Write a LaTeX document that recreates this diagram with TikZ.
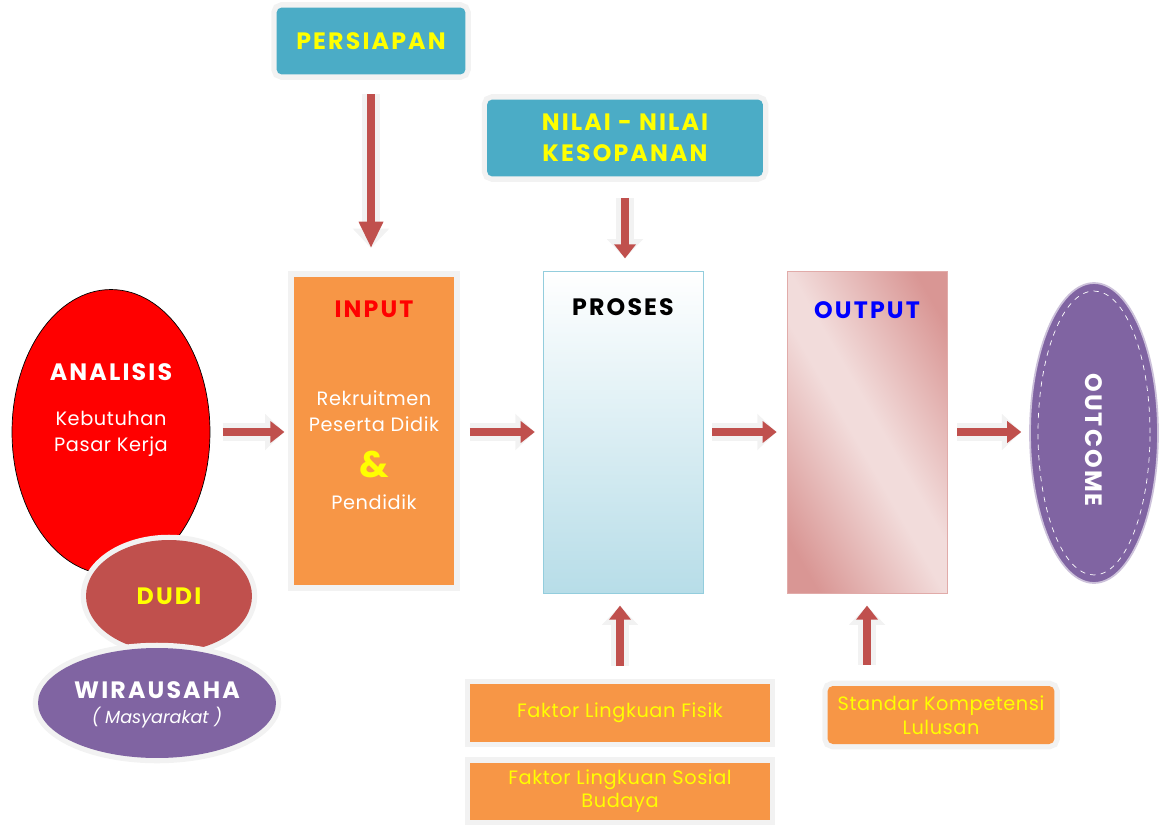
\documentclass[tikz,border=0pt]{standalone}
\usepackage{fontspec}
\setmainfont{Poppins}
\newfontfamily\headfont{Poppins}[LetterSpace=9]
\newfontfamily\bodyfont{Poppins}[LetterSpace=3]
\usetikzlibrary{arrows.meta}
\usetikzlibrary{shapes.geometric}
\definecolor{boxteal}{HTML}{4BACC6}
\definecolor{boxorange}{HTML}{F79646}
\definecolor{arrowred}{HTML}{C0504D}
\definecolor{boxpurple}{HTML}{8064A2}
\definecolor{procblue}{HTML}{B7DDE8}
\definecolor{procline}{HTML}{93CDDD}
\definecolor{outdark}{HTML}{D99694}
\definecolor{outlight}{HTML}{F2DCDB}
\definecolor{textyellow}{HTML}{FFFF00}
\pgfdeclarehorizontalshading{outshade}{100bp}{color(0bp)=(outdark); color(22bp)=(outdark); color(47bp)=(outlight); color(53bp)=(outlight); color(78bp)=(outdark); color(100bp)=(outdark)}
\tikzset{
  glow/.style={preaction={draw=black!5, line width=6pt}},
  headtext/.style={font=\headfont\bfseries\fontsize{13.5}{17.5}\selectfont, align=center, inner sep=0pt},
  bodytext/.style={text=white, font=\bodyfont\fontsize{11}{14.5}\selectfont, align=center, inner sep=0pt},
  tealbox/.style={glow, rectangle, rounded corners=3pt, fill=boxteal, inner sep=0pt, text=textyellow, headtext},
  colbox/.style={rectangle, inner sep=0pt, minimum width=3.2cm, minimum height=6.44cm},
  orangebox/.style={glow, rectangle, fill=boxorange, inner sep=0pt, text=textyellow, font=\bodyfont\fontsize{11}{13.5}\selectfont, align=center},
  flowarrow/.style={draw=arrowred, line width=5pt, -{Triangle[length=8pt,width=12pt]},
    preaction={draw=black!5, line width=10pt, -{Triangle[length=11pt,width=20pt]}}}
}
\begin{document}
\begin{tikzpicture}[x=0.02cm, y=-0.02cm]
\useasboundingbox (0,0) rectangle (1159,828);

\node (persiapan) [tealbox, minimum width=3.78cm, minimum height=1.34cm] at (371,41) {PERSIAPAN};
\node (nilai) [tealbox, minimum width=5.52cm, minimum height=1.54cm] at (625,138) {NILAI - NILAI\\KESOPANAN};

\node (analisis) [ellipse, draw=black, fill=red, minimum width=3.96cm, minimum height=5.7cm, inner sep=0pt] at (111,432) {};
\node (analisis-t) [headtext, text=white] at (111,372) {ANALISIS};
\node (analisis-s) [bodytext] at (111,434) {Kebutuhan\\Pasar Kerja};
\node (dudi) [ellipse, glow, fill=arrowred, minimum width=3.32cm, minimum height=2.24cm, inner sep=0pt] at (169,596) {};
\node (dudi-t) [headtext, text=textyellow] at (169,596) {DUDI};
\node (wirausaha) [ellipse, glow, fill=boxpurple, minimum width=4.76cm, minimum height=2.2cm, inner sep=0pt] at (157,703) {};
\node (wirausaha-t) [headtext, text=white] at (157,690) {WIRAUSAHA};
\node (wirausaha-s) [bodytext, font=\itshape\fontsize{10}{12}\selectfont] at (157,718) {( Masyarakat )};

\node (input) [colbox, glow, fill=boxorange, minimum width=3.22cm, minimum height=6.18cm] at (374,431) {};
\node (input-t) [headtext, text=red] at (374,309) {INPUT};
\node (input-s) [bodytext] at (374,411) {Rekruitmen\\Peserta Didik};
\node (input-and) [text=textyellow, font=\bfseries\fontsize{21}{21}\selectfont, inner sep=0pt] at (374,464) {\&};
\node (input-p) [bodytext] at (374,502) {Pendidik};

\node (proses) [colbox, draw=procline, top color=white, bottom color=procblue] at (623,432) {};
\node (proses-t) [headtext, text=black] at (623,307) {PROSES};

\node (output) [colbox, draw=outdark!80, shade, shading=outshade, shading angle=30] at (867,432) {};
\node (output-t) [headtext, text=blue] at (867,310) {OUTPUT};

\node (outcome) [ellipse, fill=boxpurple, draw=boxpurple!40, line width=1pt, minimum width=2.56cm, minimum height=6cm, inner sep=0pt] at (1094,433) {};
\draw[white, dashed] (outcome.center) ellipse [x radius=1.12cm, y radius=2.84cm];
\node (outcome-t) [headtext, text=white, rotate=-90] at (1094,440) {OUTCOME};

\node (fisik) [orangebox, minimum width=6cm, minimum height=1.16cm] at (620,713) {Faktor Lingkuan Fisik};
\node (sosial) [orangebox, minimum width=6cm, minimum height=1.14cm] at (620,791) {Faktor Lingkuan Sosial\\Budaya};
\node (standar) [orangebox, rounded corners=3pt, minimum width=4.54cm, minimum height=1.16cm] at (941,715) {Standar Kompetensi\\Lulusan};

\draw[flowarrow, -{Triangle[length=15pt,width=13pt]}, shorten <=11pt, shorten >=16pt] (persiapan.south) -- (persiapan.south |- input.north);
\draw[flowarrow, shorten <=12pt, shorten >=7pt] (nilai.south) -- (nilai.south |- proses.north);
\draw[flowarrow, shorten <=7pt, shorten >=5pt] (analisis.east) -- (analisis.east -| input.west);
\draw[flowarrow, shorten <=8.5pt, shorten >=4.5pt] (input.east |- proses.west) -- (proses.west);
\draw[flowarrow, shorten <=5pt, shorten >=5.7pt] (proses.east) -- (output.west);
\draw[flowarrow, shorten <=5.7pt, shorten >=4.5pt] (output.east) -- (output.east -| outcome.west);
\draw[flowarrow, shorten <=10pt, shorten >=7pt] (fisik.north) -- (fisik.north |- proses.south);
\draw[flowarrow, shorten <=12pt, shorten >=7pt] (output.south |- standar.north) -- (output.south);
\end{tikzpicture}
\end{document}
